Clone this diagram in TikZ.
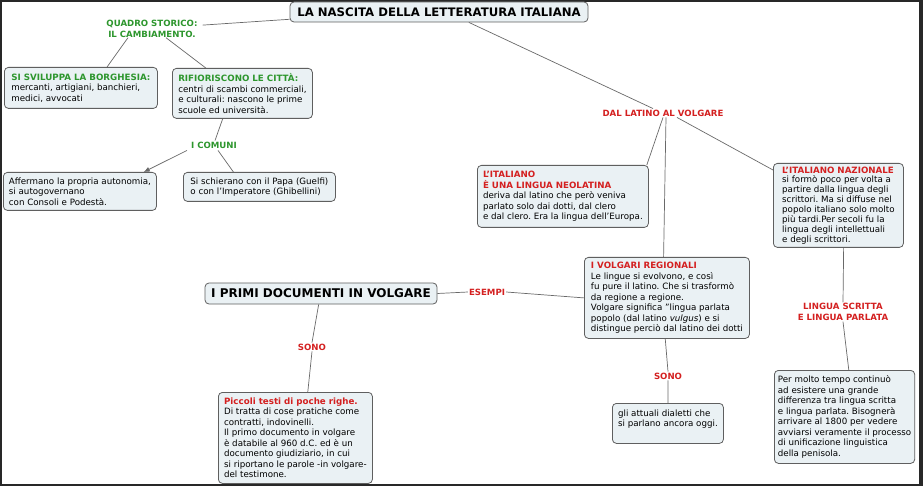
\documentclass[tikz,border=0pt]{standalone}
\usepackage{fontspec}
\setmainfont{DejaVu Sans}
\usetikzlibrary{calc,arrows.meta}
\frenchspacing
\definecolor{boxfill}{RGB}{234,241,244}
\definecolor{boxline}{RGB}{95,95,95}
\definecolor{cgreen}{RGB}{45,150,45}
\definecolor{cred}{RGB}{212,32,32}
\definecolor{connc}{RGB}{105,105,105}
\definecolor{framec}{RGB}{40,40,40}
\newcommand{\gh}[1]{\textcolor{cgreen}{\textbf{#1}}}
\newcommand{\rh}[1]{\textcolor{cred}{\textbf{#1}}}
\tikzset{
  cbox/.style={draw=boxline, fill=boxfill, rounded corners=4pt, line width=0.8pt,
    anchor=north west, align=left, inner xsep=4pt, inner ysep=3pt,
    font=\fontsize{8.7}{10.5}\selectfont\frenchspacing},
  bigbox/.style={draw=boxline, fill=boxfill, rounded corners=4pt, line width=0.8pt,
    inner sep=2pt},
  glabel/.style={text=cgreen, font=\fontsize{8.6}{10.5}\selectfont\bfseries, align=center, inner sep=1pt},
  rlabel/.style={text=cred, font=\fontsize{8.6}{10.5}\selectfont\bfseries, align=center, inner sep=1pt},
  conn/.style={draw=connc, line width=0.7pt},
}
\begin{document}
\begin{tikzpicture}[x=1pt,y=-1pt]
\useasboundingbox (0,0) rectangle (923,486);
\fill[framec] (0,0) rectangle (923,486);
\fill[white] (2,2) rectangle (919,484);

% title
\node[bigbox, minimum width=298pt, minimum height=20pt, font=\fontsize{11.7}{13}\selectfont\bfseries] (title) at (439,12) {LA NASCITA DELLA LETTERATURA ITALIANA};

% left part
\node[glabel] (quadro) at (152,29) {QUADRO STORICO:\\IL CAMBIAMENTO.};
\node[cbox, minimum width=153pt, minimum height=41pt] (borg) at (4,67)
  {\gh{SI SVILUPPA LA BORGHESIA:}\\mercanti, artigiani, banchieri,\\medici, avvocati};
\node[cbox, minimum width=140pt, minimum height=50pt] (rifio) at (172,68)
  {\gh{RIFIORISCONO LE CITTÀ:}\\centri di scambi commerciali,\\e culturali: nascono le prime\\scuole ed università.};
\node[glabel] (comuni) at (214,145) {I COMUNI};
\node[cbox, minimum width=153pt, minimum height=38pt] (afferm) at (3,172)
  {Affermano la propria autonomia,\\si autogovernano\\con Consoli e Podestà.};
\node[cbox, minimum width=152pt, minimum height=29pt] (schier) at (183,172)
  {Si schierano con il Papa (Guelfi)\\o con l'Imperatore (Ghibellini)};

% right part
\node[rlabel] (dallat) at (663,113) {DAL LATINO AL VOLGARE};
\node[cbox, minimum width=171pt, minimum height=62pt] (ital) at (477,165)
  {\rh{L'ITALIANO}\\\rh{È UNA LINGUA NEOLATINA}\\deriva dal latino che però veniva\\parlato solo dai dotti, dal clero\\e dal clero. Era la lingua dell'Europa.};
\node[cbox, minimum width=130pt, minimum height=84pt, font=\fontsize{8.7}{9.9}\selectfont\frenchspacing] (naz) at (773,163)
  {\rh{L'ITALIANO NAZIONALE}\\si formò poco per volta a\\partire dalla lingua degli\\scrittori. Ma si diffuse nel\\popolo italiano solo molto\\più tardi.Per secoli fu la\\lingua degli intellettuali\\e degli scrittori.};
\node[cbox, minimum width=165pt, minimum height=81pt] (volg) at (584,257)
  {\rh{I VOLGARI REGIONALI}\\Le lingue si evolvono, e così\\fu pure il latino. Che si trasformò\\da regione a regione.\\Volgare significa "lingua parlata\\popolo (dal latino \textit{vulgus}) e si\\distingue perciò dal latino dei dotti};
\node[rlabel] (ling) at (843,312) {LINGUA SCRITTA\\E LINGUA PARLATA};
\node[cbox, minimum width=138pt, minimum height=93pt, inner xsep=3.5pt] (molto) at (774,370)
  {Per molto tempo continuò\\ad esistere una grande\\differenza tra lingua scritta\\e lingua parlata. Bisognerà\\arrivare al 1800 per vedere\\avviarsi veramente il processo\\di unificazione linguistica\\della penisola.};
\node[rlabel] (sono2) at (668,376) {SONO};
\node[cbox, minimum width=111pt, minimum height=40pt] (dial) at (612,403)
  {gli attuali dialetti che\\si parlano ancora oggi.\\\mbox{}};

% bottom left
\node[bigbox, minimum width=232pt, minimum height=21pt, font=\fontsize{12}{14}\selectfont\bfseries] (docs) at (321,293.5) {I PRIMI DOCUMENTI IN VOLGARE};
\node[rlabel] (esempi) at (487,292) {ESEMPI};
\node[rlabel] (sono1) at (312,347) {SONO};
\node[cbox, minimum width=154pt, minimum height=91pt] (picc) at (218,392)
  {\rh{Piccoli testi di poche righe.}\\Di tratta di cose pratiche come\\contratti, indovinelli.\\Il primo documento in volgare\\è databile al 960 d.C. ed è un\\documento giudiziario, in cui\\si riportano le parole -in volgare-\\del testimone.};

% connectors
\draw[conn] ($(quadro.north east)!0.3!(quadro.south east)+(4,0)$) -- ($(title.south west)!0.15!(title.north west)$);
\draw[conn] ($(quadro.south)+(-24,-1)$) -- ($(borg.north west)!0.67!(borg.north east)$);
\draw[conn] ($(quadro.south)+(14,-1)$) -- ($(rifio.north west)!0.24!(rifio.north east)$);
\draw[conn] ($(rifio.south west)!0.36!(rifio.south east)$) -- ($(comuni.north)+(1,0)$);
\draw[conn, -{Latex[length=6pt,width=5pt]}] ($(comuni.south west)+(-3,1)$) -- ($(afferm.north west)!0.915!(afferm.north east)$);
\draw[conn] ($(comuni.south)+(4,1)$) -- ($(schier.north west)!0.33!(schier.north east)$);
\draw[conn] ($(title.south west)!0.6!(title.south east)$) -- ($(dallat.north)+(-10,0)$);
\draw[conn] ($(dallat.south)+(0,0)$) -- ($(ital.north east)+(-2,0)$);
\draw[conn] ($(dallat.south)+(3,0)$) -- ($(volg.north west)!0.48!(volg.north east)$);
\draw[conn] ($(dallat.south)+(14,0)$) -- ($(naz.north west)+(0,7)$);
\draw[conn] ($(naz.south west)!0.54!(naz.south east)$) -- (ling.north);
\draw[conn] (ling.south) -- ($(molto.north west)!0.53!(molto.north east)$);
\draw[conn] (docs.east) -- (esempi.west);
\draw[conn] (esempi.east) -- (volg.west);
\draw[conn] ($(docs.south west)!0.49!(docs.south east)$) -- (sono1.north);
\draw[conn] (sono1.south) -- ($(picc.north west)!0.58!(picc.north east)$);
\draw[conn] ($(volg.south west)!0.49!(volg.south east)$) -- (sono2.north);
\draw[conn] (sono2.south) -- (dial.north);
\end{tikzpicture}
\end{document}
